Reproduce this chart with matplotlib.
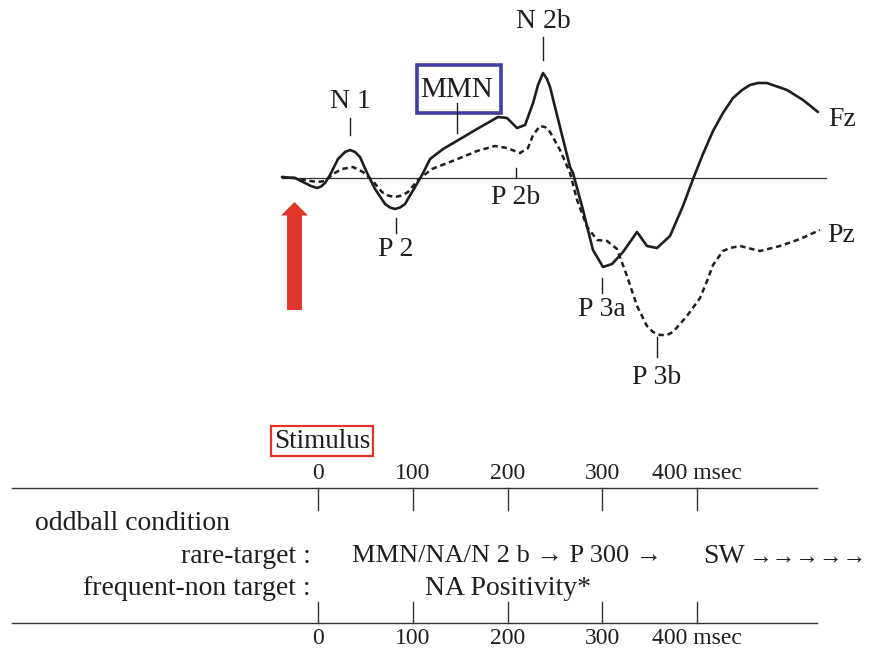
import matplotlib
matplotlib.use("Agg")
import matplotlib.pyplot as plt
from matplotlib.patches import Rectangle, FancyArrowPatch

# ---------------- data ----------------
# Fz (solid) waveform: time in ms, amplitude (arbitrary units, negative plotted up)
fz_t = [-38.0, -24.3, -13.7, -7.4, -1.1, 3.2, 7.4, 12.7, 21.1, 28.5, 33.8, 39.1,
        44.3, 52.8, 60.2, 70.8, 76.0, 81.3, 86.6, 91.8, 102.4, 109.8, 118.3, 132.0,
        150.0, 167.8, 190.0, 199.5, 210.0, 218.5, 227.0, 232.2, 237.5, 241.7, 244.9,
        255.4, 266.0, 269.1, 279.7, 290.2, 300.8, 310.3, 321.9, 336.7, 347.2, 357.8,
        371.5, 385.2, 395.8, 406.3, 416.9, 427.4, 438.0, 447.6, 455.9, 464.5, 473.9,
        495.0, 511.9, 527.7]
fz_a = [-0.1, 0.0, 0.5, 0.8, 1.0, 0.85, 0.5, -0.3, -1.9, -2.6, -2.8, -2.6,
        -2.1, -0.3, 1.1, 2.6, 2.95, 3.1, 2.95, 2.6, 0.9, -0.3, -1.9, -2.9,
        -3.9, -4.9, -6.1, -6.0, -5.0, -5.3, -7.5, -9.3, -10.5, -9.9, -9.1,
        -5.1, -1.1, -0.5, 3.2, 7.2, 8.9, 8.6, 7.4, 5.4, 6.8, 7.0,
        5.8, 2.8, 0.1, -2.4, -4.7, -6.5, -8.0, -8.8, -9.3, -9.5, -9.5,
        -8.8, -7.8, -6.6]

# Pz (dashed) waveform
pz_t = [-38.0, -24.3, -8.4, 0.0, 7.4, 15.8, 25.3, 36.9, 47.5, 57.0, 67.5, 73.9,
        81.3, 88.7, 95.0, 105.5, 120.3, 150.0, 167.8, 186.8, 199.5, 213.2, 221.6,
        227.0, 234.3, 239.6, 244.9, 255.4, 266.0, 273.4, 284.0, 294.6, 305.1, 315.6,
        326.1, 336.7, 347.2, 353.6, 361.0, 368.3, 374.7, 389.4, 403.2, 410.6, 416.9,
        427.4, 434.8, 445.4, 466.5, 487.6, 508.7, 529.8]
pz_a = [-0.1, 0.0, 0.3, 0.4, 0.3, -0.4, -0.9, -1.1, -0.6, 0.2, 1.4, 1.75,
        1.9, 1.75, 1.4, 0.2, -0.9, -2.0, -2.7, -3.2, -3.0, -2.5, -3.0,
        -4.3, -5.2, -5.1, -4.6, -2.8, -0.5, 2.2, 4.9, 6.2, 6.3, 7.1,
        9.8, 12.8, 14.8, 15.4, 15.7, 15.7, 15.4, 13.8, 12.0, 10.3, 8.7,
        7.3, 7.0, 6.8, 7.3, 6.8, 6.1, 5.2]

# component labels: (text, time ms, amplitude of label centre, tick start, tick end)
comp_names = ["N 1", "P 2", "MMN", "N 2b", "P 2b", "P 3a", "P 3b"]
comp_t     = [34.0, 82.0, 146.5, 237.5, 208.5, 299.5, 357.8]
comp_lab_a = [-7.6, 7.2, -8.8, -15.6, 1.9, 13.2, 19.9]
comp_tick0 = [-6.0, 4.0, -7.5, -14.1, -1.0, 10.0, 15.9]
comp_tick1 = [-4.3, 5.5, -4.5, -11.8, -0.1, 11.5, 17.9]

baseline_t = [-38.0, 536.0]

# timeline
tick_ms = [0, 100, 200, 300, 400]
tick_labels = ["0", "100", "200", "300", "400 msec"]
timeline_span = [-323.0, 526.6]
rare_text = "MMN/NA/N 2 b \u2192 P 300 \u2192"
sw_text = "SW"
sw_arrows = "\u2192\u2192\u2192\u2192\u2192"
freq_text = "NA Positivity*"

# ---------------- figure ----------------
W, H = 869, 652
fig = plt.figure(figsize=(W / 100, H / 100), dpi=100)
fig.patch.set_facecolor("white")
plt.rcParams["font.family"] = ["Liberation Serif", "DejaVu Serif"]

XL = ((0 - 318) / 0.9475, (W - 318) / 0.9475)
ink = "#1e1e1e"
LAB = 20

# top axes: waveforms (pixel 0..410)
top_h = 410
ax = fig.add_axes([0, (H - top_h) / H, 1, top_h / H])
ax.set_xlim(*XL)
ax.set_ylim((top_h - 178) / 10, (0 - 178) / 10)
ax.axis("off")

ax.plot(baseline_t, [0, 0], color="#333333", lw=0.9)
ax.plot(fz_t, fz_a, color=ink, lw=1.9, solid_joinstyle="round", solid_capstyle="round")
ax.plot(pz_t, pz_a, color=ink, lw=1.8, linestyle=(0, (2.2, 1.5)))

for name, t, la, a0, a1 in zip(comp_names, comp_t, comp_lab_a, comp_tick0, comp_tick1):
    fs = 21 if name == "MMN" else LAB
    ax.text(t, la, name, ha="center", va="center", fontsize=fs, color=ink)
    ax.plot([t, t], [a0, a1], color=ink, lw=1.0)

ax.text(538.5, -5.8, "Fz", ha="left", va="center", fontsize=LAB, color=ink)
ax.text(537.5, 5.7, "Pz", ha="left", va="center", fontsize=LAB, color=ink)

# blue box around MMN
bx0, bx1 = (417 - 318) / 0.9475, (501 - 318) / 0.9475
by0, by1 = (65 - 178) / 10, (113 - 178) / 10
ax.add_patch(Rectangle((bx0, by0), bx1 - bx0, by1 - by0, fill=False,
                       edgecolor="#3f3f9f", lw=2.6))

# red arrow (stimulus onset)
ax_t = (294.5 - 318) / 0.9475
arr = FancyArrowPatch((ax_t, (310 - 178) / 10), (ax_t, (202 - 178) / 10),
                      arrowstyle="simple,head_length=0.5,head_width=1.0,tail_width=0.55",
                      mutation_scale=19.5, color="#e0362a", lw=0, shrinkA=0, shrinkB=0)
ax.add_patch(arr)

# bottom axes: timeline (pixel y 410..652)
bx = fig.add_axes([0, 0, 1, (H - top_h) / H])
bx.set_xlim(*XL)
bx.set_ylim(H, top_h)
bx.axis("off")

bx.plot(timeline_span, [488, 488], color="#333333", lw=1.0)
bx.plot(timeline_span, [623, 623], color="#333333", lw=1.0)
for t, lab in zip(tick_ms, tick_labels):
    bx.plot([t, t], [488, 510], color="#333333", lw=1.0)
    bx.plot([t, t], [602, 623], color="#333333", lw=1.0)
    bx.text(t, 473, lab, ha="center", va="center", fontsize=17, color=ink)
    bx.text(t, 638, lab, ha="center", va="center", fontsize=17, color=ink)

sx0, sx1 = (271 - 318) / 0.9475, (373 - 318) / 0.9475
bx.add_patch(Rectangle((sx0, 426), sx1 - sx0, 30, fill=False, edgecolor="#e0362a", lw=1.6))
bx.text((sx0 + sx1) / 2, 441, "Stimulus", ha="center", va="center", fontsize=19.5, color=ink)

TXT = 20
bx.text((35 - 318) / 0.9475, 523, "oddball condition", ha="left", va="center",
        fontsize=TXT, color=ink)
bx.text((311 - 318) / 0.9475, 556, "rare-target :", ha="right", va="center",
        fontsize=TXT, color=ink)
bx.text((311 - 318) / 0.9475, 588, "frequent-non target :", ha="right", va="center",
        fontsize=TXT, color=ink)
bx.text((352 - 318) / 0.9475, 556, rare_text, ha="left", va="center", fontsize=19, color=ink)
bx.text((703 - 318) / 0.9475, 556, sw_text, ha="left", va="center", fontsize=TXT, color=ink)
bx.text((748 - 318) / 0.9475, 557, sw_arrows, ha="left", va="center", fontsize=17, color=ink)
bx.text((425 - 318) / 0.9475, 588, freq_text, ha="left", va="center", fontsize=TXT, color=ink)

fig.savefig("out.png", dpi=100, facecolor="white")
